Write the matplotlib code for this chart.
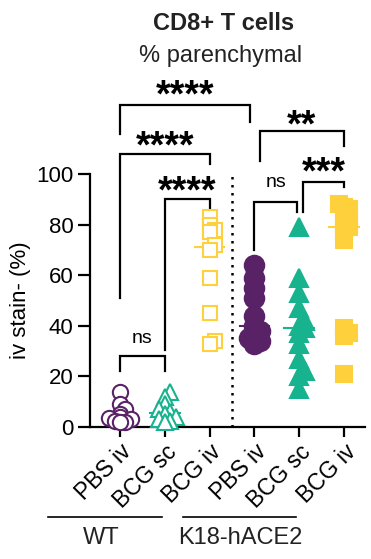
import numpy as np
import matplotlib
matplotlib.use("Agg")
import matplotlib.pyplot as plt

plt.rcParams['font.family'] = ['Liberation Sans', 'DejaVu Sans']

groups = ["PBS iv", "BCG sc", "BCG iv", "PBS iv", "BCG sc", "BCG iv"]
wt_pbs_iv = [14, 9, 7, 5, 4, 3.5, 3, 2.5, 2, 2]
wt_bcg_sc = [14, 12, 9, 7, 6, 5, 4, 3, 2.5, 2]
wt_bcg_iv = [83, 80, 78, 77, 72, 70, 59, 45, 34, 33]
k18_pbs_iv = [64, 59, 55, 51, 44, 40, 38, 36, 35, 34, 33]
k18_bcg_sc = [79, 59, 53, 47, 42, 40, 39, 37, 33, 27, 22, 20, 15]
k18_bcg_iv = [88, 87, 86, 84, 82, 80, 79, 77, 74, 39, 37, 36, 21]
series = [wt_pbs_iv, wt_bcg_sc, wt_bcg_iv, k18_pbs_iv, k18_bcg_sc, k18_bcg_iv]

purple = "#5a2266"
green = "#17b38e"
yellow = "#fdd03c"
colors = [purple, green, yellow, purple, green, yellow]
markers = ["o", "^", "s", "o", "^", "s"]
filled = [False, False, False, True, True, True]
msizes = [11, 11, 10, 14, 13, 11]

# significance: (x_left, x_right, label, top, left_bottom, right_bottom, label_center)
sig = [
    (0.0, 1.0, "ns", 28, 22, 22, 35.3),
    (1.0, 2.0, "****", 90, 30.5, 85, 97),
    (0.0, 2.0, "****", 108, 51, 104, 115),
    (0.0, 2.9, "****", 127.4, 116, 120.6, 135),
    (3.0, 3.95, "ns", 89, 70, 85, 96.8),
    (4.08, 5.0, "***", 97, 85, 95, 104.5),
    (3.12, 5.0, "**", 117, 105, 111, 123),
]

fig = plt.figure(figsize=(3.71, 5.59), dpi=100)
ax = fig.add_axes([90/371, 1-427/559, 275/371, 253/559])
ax.set_ylim(0, 100)
ax.set_xlim(-0.67, 5.47)

def swarm(vals, spacing_y=2.4, spacing_x=0.12):
    vals = np.asarray(vals, float)
    order = np.argsort(vals)
    xs = np.zeros(len(vals))
    placed = []
    for idx in order:
        v = vals[idx]
        cands = [0.0]
        for k in range(1, 6):
            cands += [k * spacing_x * 0.5, -k * spacing_x * 0.5]
        for c in cands:
            ok = True
            for (px, pv) in placed:
                dx = (c - px) / spacing_x
                dy = (v - pv) / spacing_y
                if dx * dx + dy * dy < 1.0:
                    ok = False
                    break
            if ok:
                xs[idx] = c
                placed.append((c, v))
                break
    return xs

for i, vals in enumerate(series):
    off = swarm(vals)
    xs = i + off
    face = colors[i] if filled[i] else "white"
    ax.plot(xs, vals, linestyle="none", marker=markers[i], ms=msizes[i],
            mfc=face, mec=colors[i], mew=1.5, clip_on=False, zorder=3)
    med = np.median(vals)
    ax.plot([i - 0.33, i + 0.33], [med, med], color=colors[i], lw=1.5, zorder=2)

# dotted separator
ax.plot([2.5, 2.5], [0, 100], color="black", lw=1.8, ls=(0, (1, 2.2)), zorder=1)

for (xl, xr, lab, top, lb, rb, lc) in sig:
    ax.plot([xl, xl, xr, xr], [lb, top, top, rb], color="black", lw=1.6,
            clip_on=False, solid_joinstyle="miter")
    if lab == "ns":
        fs = 14
        ax.annotate(lab, xy=((xl + xr) / 2, lc), xytext=(0, -0.26 * fs),
                    textcoords="offset points", ha="center", va="baseline",
                    fontsize=fs, annotation_clip=False)
    else:
        fs = 27
        ax.annotate(lab, xy=((xl + xr) / 2, lc), xytext=(0, -0.56 * fs),
                    textcoords="offset points", ha="center", va="baseline",
                    fontsize=fs, fontweight="bold", annotation_clip=False)

ax.spines["top"].set_visible(False)
ax.spines["right"].set_visible(False)
ax.spines["left"].set_linewidth(1.6)
ax.spines["bottom"].set_linewidth(1.6)
ax.set_yticks([0, 20, 40, 60, 80, 100])
ax.tick_params(axis="y", labelsize=16, width=1.6, length=9, pad=3, colors="black")
ax.tick_params(axis="x", width=1.6, length=7.5, pad=2)
ax.set_xticks(range(6))
ax.set_xticklabels(groups, rotation=45, ha="right", rotation_mode="anchor", fontsize=16.5)
ax.set_ylabel("iv stain- (%)", fontsize=16, labelpad=4)

fig.text(224/371, 1-30/559, "CD8+ T cells", ha="center", va="baseline", fontsize=17,
         fontweight="bold", color="#222222")
fig.text(221/371, 1-62/559, "% parenchymal", ha="center", va="baseline", fontsize=17,
         color="#222222")

# group lines
fig.add_artist(plt.Line2D([48/371, 162/371], [1-517/559, 1-517/559], color="black", lw=1.2))
fig.add_artist(plt.Line2D([183/371, 296/371], [1-517/559, 1-517/559], color="black", lw=1.2))
fig.text(101/371, 1-538/559, "WT", ha="center", va="center", fontsize=17, color="#222222")
fig.text(240/371, 1-538/559, "K18-hACE2", ha="center", va="center", fontsize=17, color="#222222")

fig.savefig("out.png", dpi=100)
